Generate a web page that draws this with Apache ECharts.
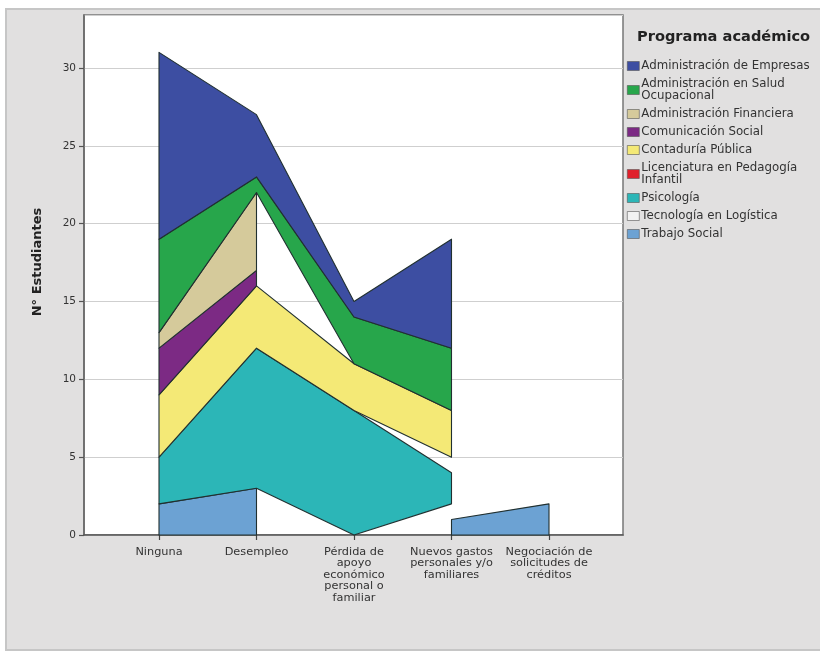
<!DOCTYPE html>
<html>
<head>
<meta charset="utf-8">
<script src="https://cdn.jsdelivr.net/npm/echarts@6/dist/echarts.min.js"></script>
<style>
html,body{margin:0;padding:0;background:#fff;}
#chart{width:820px;height:661px;}
</style>
</head>
<body>
<div id="chart"></div>
<script>
// Categories (motivo) and their tick labels
const categories = ['Ninguna', 'Desempleo', 'Pérdida de apoyo económico personal o familiar', 'Nuevos gastos personales y/o familiares', 'Negociación de solicitudes de créditos'];
const tickLabels = ['Ninguna', 'Desempleo', 'Pérdida de\napoyo\neconómico\npersonal o\nfamiliar', 'Nuevos gastos\npersonales y/o\nfamiliares', 'Negociación de\nsolicitudes de\ncréditos'];

// Series values (null = not present, area not drawn there)
const admEmpresas    = [12, 4, 1, 7, null];
const admSalud       = [6, 1, 3, 4, null];
const admFinanciera  = [1, 5, null, null, null];
const comunicacion   = [3, 1, null, null, null];
const contaduria     = [4, 4, 3, 3, null];
const licenciatura   = [null, null, null, 1, null];
const psicologia     = [3, 9, 8, 2, null];
const tecnologia     = [null, null, null, 1, null];
const trabajoSocial  = [2, 3, null, 1, 2];

const seriesNames = ['Administración de Empresas', 'Administración en Salud Ocupacional', 'Administración Financiera', 'Comunicación Social', 'Contaduría Pública', 'Licenciatura en Pedagogía Infantil', 'Psicología', 'Tecnología en Logística', 'Trabajo Social'];
const legendLabels = {
  'Administración en Salud Ocupacional': 'Administración en Salud\nOcupacional',
  'Licenciatura en Pedagogía Infantil': 'Licenciatura en Pedagogía\nInfantil'
};
const yTicks = [0, 5, 10, 15, 20, 25, 30];

const colors = {
  'Administración de Empresas': '#3d4ea2',
  'Administración en Salud Ocupacional': '#27a64b',
  'Administración Financiera': '#d5ca9b',
  'Comunicación Social': '#7c2a84',
  'Contaduría Pública': '#f4e976',
  'Licenciatura en Pedagogía Infantil': '#e0202b',
  'Psicología': '#2cb6b7',
  'Tecnología en Logística': '#f2f2f2',
  'Trabajo Social': '#6ca2d3'
};
const valuesByName = {
  'Administración de Empresas': admEmpresas,
  'Administración en Salud Ocupacional': admSalud,
  'Administración Financiera': admFinanciera,
  'Comunicación Social': comunicacion,
  'Contaduría Pública': contaduria,
  'Licenciatura en Pedagogía Infantil': licenciatura,
  'Psicología': psicologia,
  'Tecnología en Logística': tecnologia,
  'Trabajo Social': trabajoSocial
};

const FONT = 'DejaVu Sans, Verdana, sans-serif';

// Stack (bottom = last legend entry), skipping missing values
const stackOrder = seriesNames.slice().reverse();
const running = categories.map(function () { return 0; });
const stacked = {};   // name -> {bottoms, tops}
const runsByName = {}; // name -> [[start, end], ...]
stackOrder.forEach(function (name) {
  const vals = valuesByName[name];
  const bottoms = [], tops = [];
  for (let i = 0; i < categories.length; i++) {
    if (vals[i] == null) { bottoms.push(null); tops.push(null); continue; }
    bottoms.push(running[i]);
    running[i] += vals[i];
    tops.push(running[i]);
  }
  stacked[name] = { bottoms: bottoms, tops: tops };
  const runs = [];
  let start = -1;
  for (let i = 0; i <= categories.length; i++) {
    const ok = i < categories.length && tops[i] != null;
    if (ok && start < 0) start = i;
    if (!ok && start >= 0) {
      if (i - 1 > start) runs.push([start, i - 1, tops[start]]);
      start = -1;
    }
  }
  runsByName[name] = runs;
});

function makeRenderer(name) {
  const s = stacked[name];
  return function (params, api) {
    const a = api.value(0), b = api.value(1);
    const pts = [];
    for (let i = a; i <= b; i++) pts.push(api.coord([i, s.tops[i]]));
    for (let i = b; i >= a; i--) pts.push(api.coord([i, s.bottoms[i]]));
    return {
      type: 'polygon',
      shape: { points: pts },
      style: { fill: api.visual('color'), stroke: '#213030', lineWidth: 1.1, lineJoin: 'round' }
    };
  };
}

const series = stackOrder.map(function (name, k) {
  return {
    name: name,
    type: 'custom',
    xAxisIndex: 1, yAxisIndex: 1,
    coordinateSystem: 'cartesian2d',
    renderItem: makeRenderer(name),
    data: runsByName[name],
    encode: { x: [0, 1], y: 2 },
    itemStyle: { color: colors[name] },
    z: 3 + k,
    silent: true
  };
});

const chart = echarts.init(document.getElementById('chart'), null, { renderer: 'canvas' });
const YMAX = 33.4;
chart.setOption({
  animation: false,
  backgroundColor: '#ffffff',
  graphic: [
    { type: 'rect', z: -100, silent: true,
      shape: { x: 6, y: 9, width: 820, height: 641 },
      style: { fill: '#e1e0e0', stroke: '#c6c6c6', lineWidth: 2 } },
    { type: 'text', z: 10, silent: true, x: 38, y: 262, rotation: Math.PI / 2,
      style: { text: 'N° Estudiantes', font: 'bold 13px ' + FONT, fill: '#222', align: 'center', verticalAlign: 'middle' } }
  ],
  title: {
    text: 'Programa académico',
    left: 632, top: 25,
    textStyle: { fontFamily: FONT, fontWeight: 'bold', fontSize: 14.6, color: '#222' }
  },
  legend: {
    orient: 'vertical',
    left: 622, top: 55,
    icon: 'rect',
    itemWidth: 12, itemHeight: 9, itemGap: 6,
    data: seriesNames,
    selectedMode: false,
    formatter: function (n) { return legendLabels[n] || n; },
    itemStyle: { borderColor: '#555', borderWidth: 0.6 },
    textStyle: { fontFamily: FONT, fontSize: 11.8, lineHeight: 12, color: '#333', padding: [0, 0, 0, -3] }
  },
  grid: [
    { left: 84, top: 15, width: 539, height: 520, show: true, backgroundColor: '#ffffff', borderColor: '#777', borderWidth: 1.5, containLabel: false },
    { left: 159, top: 15, width: 390, height: 520, containLabel: false }
  ],
  xAxis: [
    { gridIndex: 0, type: 'category', data: categories, show: true,
      axisLine: { lineStyle: { color: '#555', width: 1.5 } }, axisTick: { show: false }, axisLabel: { show: false }, splitLine: { show: false } },
    { gridIndex: 1, type: 'category', data: categories, boundaryGap: false,
      axisLine: { show: false },
      axisTick: { show: true, length: 5, inside: false, lineStyle: { color: '#444', width: 1.2 } },
      axisLabel: {
        interval: 0, margin: 11,
        formatter: function (v, idx) { return tickLabels[idx]; },
        fontFamily: FONT, fontSize: 11.3, lineHeight: 11.5, color: '#333', align: 'center', verticalAlign: 'top'
      },
      splitLine: { show: false } }
  ],
  yAxis: [
    { gridIndex: 0, type: 'value', min: 0, max: YMAX, interval: 5,
      axisLine: { show: true, lineStyle: { color: '#666', width: 1.5 } },
      axisTick: { show: true, length: 5, lineStyle: { color: '#555', width: 1.2 } },
      axisLabel: { showMaxLabel: false, margin: 8, fontFamily: FONT, fontSize: 10.5, color: '#333',
        formatter: function (v) { return yTicks.indexOf(v) >= 0 ? String(v) : ''; } },
      splitLine: { show: true, lineStyle: { color: '#cfcfcf', width: 1.2 } } },
    { gridIndex: 1, type: 'value', min: 0, max: YMAX, interval: 5, show: false, splitLine: { show: false } }
  ],
  series: series
});
</script>
</body>
</html>
